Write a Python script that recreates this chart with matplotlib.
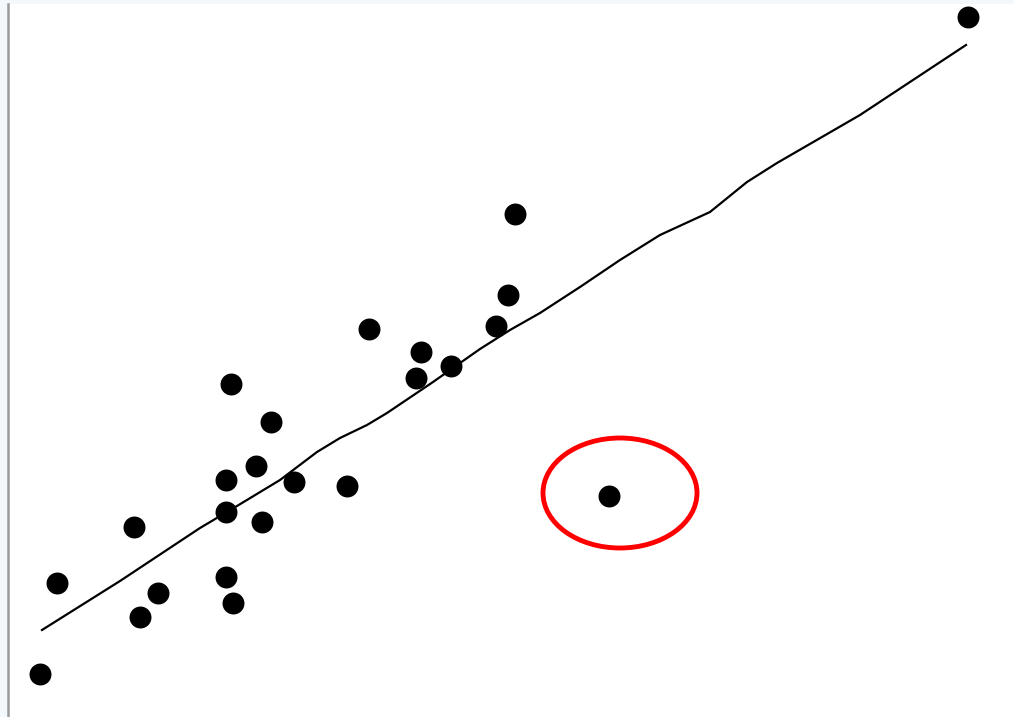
import matplotlib
matplotlib.use('Agg')
import matplotlib.pyplot as plt
from matplotlib.patches import Ellipse

# scatter points
x = [0.40, 0.57, 1.34, 1.40, 1.58, 2.26, 2.26, 2.26, 2.33, 2.31, 2.56, 2.62,
     2.71, 2.94, 3.47, 3.69, 4.16, 4.21, 4.51, 4.96, 5.08, 5.15, 6.09, 9.68]
y = [0.43, 1.34, 1.90, 1.00, 1.24, 2.37, 2.05, 1.40, 1.14, 3.33, 2.51, 1.95,
     2.95, 2.35, 2.31, 3.88, 3.39, 3.65, 3.51, 3.91, 4.22, 5.03, 2.21, 7.00]

# fitted line (hand drawn)
line_x = [0.42, 1.20, 2.00, 2.37, 2.80, 3.17, 3.40, 3.67, 3.87, 4.33, 4.80,
          5.10, 5.40, 5.80, 6.20, 6.60, 7.10, 7.47, 7.77, 8.60, 9.66]
line_y = [0.87, 1.36, 1.89, 2.11, 2.37, 2.65, 2.79, 2.92, 3.04, 3.35, 3.68,
          3.87, 4.04, 4.30, 4.57, 4.82, 5.05, 5.35, 5.54, 6.02, 6.72]

# outlier highlight
outlier = (6.20, 2.24)

fig = plt.figure(figsize=(10.14, 7.17), dpi=100, facecolor='#f3f8fc')
ax = fig.add_axes([8 / 1014, 0, 1006 / 1014, 713 / 717])
ax.set_facecolor('white')
ax.set_xlim(0.08, 10.14)
ax.set_ylim(0, 7.13)

ax.plot(line_x, line_y, color='black', lw=1.6, zorder=2)
ax.plot(x, y, 'o', color='black', markersize=15.8, markeredgewidth=0, zorder=3)

ax.add_patch(Ellipse(outlier, 1.54, 1.10, fill=False, edgecolor='#ff0000', lw=3.5, zorder=4))

for s in ['top', 'right', 'bottom']:
    ax.spines[s].set_visible(False)
ax.spines['left'].set_color('#9a9a9a')
ax.spines['left'].set_linewidth(1.8)
ax.set_xticks([])
ax.set_yticks([])

fig.savefig('out.png', dpi=100, facecolor=fig.get_facecolor())
